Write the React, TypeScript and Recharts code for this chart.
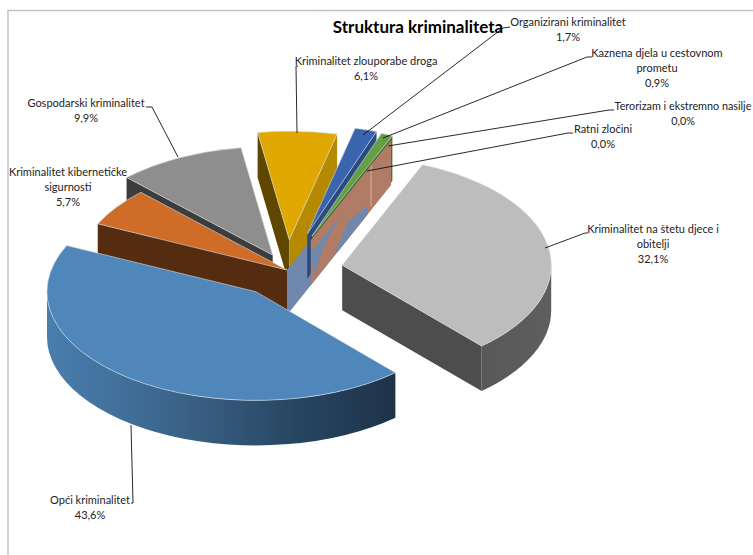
import React from "react";
import { PieChart, Pie } from "recharts";

const categories = [
  "Kriminalitet na štetu djece i obitelji",
  "Opći kriminalitet",
  "Kriminalitet kibernetičke sigurnosti",
  "Gospodarski kriminalitet",
  "Kriminalitet zlouporabe droga",
  "Organizirani kriminalitet",
  "Kaznena djela u cestovnom prometu",
  "Terorizam i ekstremno nasilje",
  "Ratni zločini",
];
const shares = [32.1, 43.6, 5.7, 9.9, 6.1, 1.7, 0.9, 0.0, 0.0];
const shareLabels = ["32,1%", "43,6%", "5,7%", "9,9%", "6,1%", "1,7%", "0,9%", "0,0%", "0,0%"];
const labelLines = [
  ["Kriminalitet na štetu djece i", "obitelji"],
  ["Opći kriminalitet"],
  ["Kriminalitet kibernetičke", "sigurnosti"],
  ["Gospodarski kriminalitet"],
  ["Kriminalitet zlouporabe droga"],
  ["Organizirani kriminalitet"],
  ["Kaznena djela u cestovnom", "prometu"],
  ["Terorizam i ekstremno nasilje"],
  ["Ratni zločini"],
];
const data = categories.map((name, i) => ({ name, value: shares[i] }));

// Styling and layout
const TILT = 0.52;
const DEPTH = 45;
const explode = [56, 52, 0, 32, 58, 72, 70, 0, 62];
const faceColors = ["#bdbdbd", "#4f87bb", "#cf6c28", "#8e8e8e", "#e0a800", "#3a64ae", "#659f44", "#7088ab", "#b17c66"];
const startWallColors = ["#4d4d4d", "#2a4a6a", "#552c10", "#3c3c3c", "#5f4700", "#24406f", "#44702c", "#7088ab", "#b17c66"];
const endWallColors = ["#4d4d4d", "#2a4a6a", "#552c10", "#3c3c3c", "#b58900", "#2b4a80", "#44702c", "#7088ab", "#b17c66"];
const wallOrder = [4, 3, 2, 7, 5, 6, 8, 0, 1];
const faceOrder = [3, 2, 4, 5, 6, 0, 1];
const labelLayout = [
  { cx: 653, ys: [233, 248, 263], line: [[545, 248], [585, 233], [588, 233]] },
  { cx: 90, ys: [504, 519], line: [[131, 425], [133, 503], [131, 503]] },
  { cx: 68, ys: [176, 191, 206], line: [] },
  { cx: 86, ys: [107, 122], line: [[178, 157], [152, 107], [146, 107]] },
  { cx: 366, ys: [65, 80], line: [[297, 133], [296, 66], [298, 66]] },
  { cx: 568, ys: [26, 41], line: [[363, 135], [503, 28], [510, 27]] },
  { cx: 657, ys: [57, 72, 87], line: [[383, 138], [587, 57], [592, 57]] },
  { cx: 683, ys: [110, 125], line: [[388, 146], [609, 110], [614, 110]] },
  { cx: 603, ys: [133, 148], line: [[367, 171], [568, 133], [573, 133]] },
];
const zigzags = [
  [[0, 0.27], [0.36, 0.3], [0.155, 0.5], [0.04, 0.89]],
  [[0.29, 0.95], [0.465, 0.63], [0.71, 0.8], [0.71, 1], [0.49, 1], [0.33, 1]],
];
const FONT = "Lato, 'Noto Sans', sans-serif";

const rad = (d: number) => (d * Math.PI) / 180;

function geometry(p: any, i: number) {
  const a0 = 90 - p.startAngle;
  const span = p.startAngle - p.endAngle;
  const a = ((a0 % 360) + 360) % 360;
  const b = a + span;
  const mid = a + span / 2;
  const R = p.outerRadius;
  const ax = p.cx + explode[i] * Math.sin(rad(mid));
  const ay = p.cy - explode[i] * TILT * Math.cos(rad(mid));
  const pt = (th: number): [number, number] => [ax + R * Math.sin(rad(th)), ay - R * TILT * Math.cos(rad(th))];
  return { a, b, span, R, ax, ay, pt };
}

const idx = (p: any) => categories.indexOf(p.payload?.name ?? p.name);

function quad(pts: number[][]) {
  return "M" + pts.map((q) => q[0].toFixed(2) + "," + q[1].toFixed(2)).join("L") + "Z";
}

function wallShape(only: number) {
  return (p: any) => {
    const i = idx(p);
    if (i !== only) return <g />;
    const g = geometry(p, i);
    const out: React.ReactNode[] = [];
    const edge = (th: number, color: string, key: string) => {
      const e = g.pt(th);
      out.push(
        <path
          key={key}
          d={quad([[g.ax, g.ay], e, [e[0], e[1] + DEPTH], [g.ax, g.ay + DEPTH]])}
          fill={color}
        />
      );
    };
    const na = g.a;
    const nb = g.b % 360;
    if (g.span > 0 && na > 180 && na < 360) edge(g.a, startWallColors[i], "s");
    if (nb > 0 && nb < 180) edge(g.b, endWallColors[i], "e");
    const lo = Math.max(g.a, 90);
    const hi = Math.min(g.b, 270);
    if (hi > lo) {
      const s = g.pt(lo);
      const t = g.pt(hi);
      const rx = g.R;
      const ry = g.R * TILT;
      const grad = "wall" + i;
      const left = Math.min(s[0], t[0], g.ax - (lo < 270 && hi >= 270 ? g.R : 0));
      const right = Math.max(s[0], t[0]);
      out.push(
        <defs key="d">
          <linearGradient id={grad} gradientUnits="userSpaceOnUse" x1={left} x2={right} y1={0} y2={0}>
            {i === 1 ? (
              <>
                <stop offset="0" stopColor="#4a7eae" />
                <stop offset="0.25" stopColor="#3f6d96" />
                <stop offset="0.45" stopColor="#385d80" />
                <stop offset="0.72" stopColor="#264561" />
                <stop offset="1" stopColor="#1f3348" />
              </>
            ) : (
              <>
                <stop offset="0" stopColor="#4d4d4d" />
                <stop offset="1" stopColor="#5e5e5e" />
              </>
            )}
          </linearGradient>
        </defs>
      );
      out.push(
        <path
          key="o"
          fill={`url(#${grad})`}
          d={`M${s[0]},${s[1]}A${rx},${ry} 0 0 1 ${t[0]},${t[1]}L${t[0]},${t[1] + DEPTH}A${rx},${ry} 0 0 0 ${s[0]},${s[1] + DEPTH}Z`}
        />
      );
    }
    if (i === 8) {
      const rim = g.pt(g.a);
      const w = (t: number, s: number) => [g.ax + t * (rim[0] - g.ax), g.ay + t * (rim[1] - g.ay) + s * DEPTH];
      zigzags.forEach((z, k) =>
        out.push(<path key={"z" + k} d={quad(z.map(([t, s]) => w(t, s)))} fill={faceColors[7]} />)
      );
      const l1 = w(0.75, 0);
      const l2 = w(0.75, 0.92);
      out.push(<line key="l" x1={l1[0]} y1={l1[1]} x2={l2[0]} y2={l2[1]} stroke="#d8c0b4" strokeWidth={0.8} />);
    }
    return <g>{out}</g>;
  };
}

function faceShape(only: number) {
  return (p: any) => {
    const i = idx(p);
    if (i !== only || p.startAngle === p.endAngle) return <g />;
    const g = geometry(p, i);
    const s = g.pt(g.a);
    const t = g.pt(g.b);
    return (
      <path
        d={`M${g.ax},${g.ay}L${s[0]},${s[1]}A${g.R},${g.R * TILT} 0 ${g.span > 180 ? 1 : 0} 1 ${t[0]},${t[1]}Z`}
        fill={faceColors[i]}
        stroke="#d3dde8"
        strokeWidth={0.6}
      />
    );
  };
}

const emptyShape = () => <g />;

function renderLabel(p: any) {
  const i = idx(p);
  const l = labelLayout[i];
  const lines = [...labelLines[i], shareLabels[i]];
  return (
    <text key={i} textAnchor="middle" fontFamily={FONT} fontSize={i === 7 ? 10.8 : 11} fill="#222">
      {lines.map((t, k) => (
        <tspan key={k} x={l.cx} y={l.ys[k]}>
          {t}
        </tspan>
      ))}
    </text>
  );
}

function renderLine(p: any) {
  const i = idx(p);
  const l = labelLayout[i];
  if (!l.line.length) return <g key={i} />;
  return (
    <polyline key={i} points={l.line.map((q) => q.join(",")).join(" ")} fill="none" stroke="#111" strokeWidth={0.9} />
  );
}

const pieProps = {
  data,
  dataKey: "value",
  nameKey: "name",
  cx: 287,
  cy: 270,
  innerRadius: 0,
  outerRadius: 209,
  startAngle: 67.4,
  endAngle: -292.6,
  paddingAngle: 0,
  stroke: "none",
  isAnimationActive: false,
  legendType: "none" as const,
};

export default function App() {
  return (
    <div style={{ position: "absolute", left: 0, top: 0, width: 753, height: 555, background: "#fff" }}>
      <PieChart width={753} height={555} margin={{ top: 0, right: 0, bottom: 0, left: 0 }}>
        <path d="M8,555V10.5H753" fill="none" stroke="#c4c4c4" strokeWidth={1.5} />
        {wallOrder.map((w) => {
          const s = wallShape(w);
          return <Pie key={"w" + w} {...pieProps} shape={s} inactiveShape={s} label={false} labelLine={false} />;
        })}
        {faceOrder.map((f) => {
          const s = faceShape(f);
          return <Pie key={"f" + f} {...pieProps} shape={s} inactiveShape={s} label={false} labelLine={false} />;
        })}
        <Pie key="labels" {...pieProps} shape={emptyShape} inactiveShape={emptyShape} label={renderLabel} labelLine={renderLine} />
        <text x={418} y={33} textAnchor="middle" fontFamily={FONT} fontWeight={700} fontSize={17} fill="#000">
          Struktura kriminaliteta
        </text>
      </PieChart>
    </div>
  );
}
